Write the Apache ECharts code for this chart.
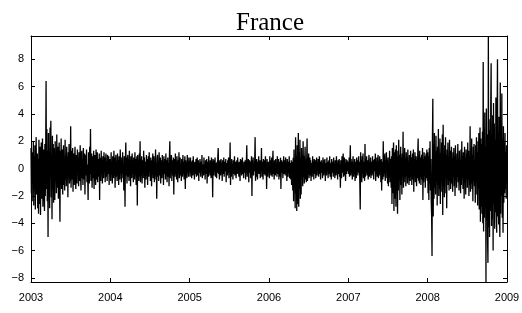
<!DOCTYPE html>
<html>
<head>
<meta charset="utf-8">
<title>France</title>
<script src="https://cdn.jsdelivr.net/npm/echarts@6/dist/echarts.min.js"></script>
<style>
  html, body { margin: 0; padding: 0; background: #fff; }
  #main { width: 522px; height: 313px; }
</style>
</head>
<body>
<div id="main"></div>
<script>
// years shown on the x axis, one block of daily returns per year
const years = [2003, 2004, 2005, 2006, 2007, 2008]
const yearLabels = ['2003', '2004', '2005', '2006', '2007', '2008', '2009']

// daily returns (%)
const r2003 = [
  1.5, -1.8, 0.6, -2.4, 1.2, -0.5, 2.0, -2.7, 0.9, -1.4, 1.7, -3.0, 0.4, 2.3, -1.9, -0.8, 1.1, -2.9, 0.7, -3.3,
  2.1, -1.2, -2.6, 1.6, -3.4, 0.8, 1.9, -2.2, -1.0, 2.2, -2.8, 0.5, 1.4, -1.7, -3.1, 1.8, -2.0, 0.9, 6.4, -1.5,
  2.9, -2.4, 1.3, -5.0, 2.6, -1.1, 0.4, -2.9, 3.0, 1.2, 3.5, -2.1, 0.6, -3.7, 2.4, -1.6, 1.8, -2.5, 0.3, 1.5,
  -2.3, 2.0, -0.9, 1.1, -1.8, 2.5, -0.6, -1.4, 1.6, -2.2, 0.7, 1.9, -1.0, -3.9, 1.3, -0.4, 2.2, -1.5, 0.5, 1.4,
  -1.9, 0.8, 1.7, -1.2, 0.2, -1.6, 2.1, -0.8, 1.0, -1.3, 1.6, -0.5, 0.9, -2.1, 1.2, -0.7, 1.8, -1.1, 0.4, -0.9,
  3.1, -1.4, 0.6, 1.3, -0.8, 1.5, -1.7, 0.3, 1.1, -1.2, 0.7, 1.6, -0.6, -1.5, 1.0, 0.2, -1.1, 1.4, -0.4, 0.8,
  -1.3, 1.2, 0.5, -0.9, 1.7, -0.3, -1.6, 0.9, 1.3, -0.7, 0.4, -1.2, 1.5, 0.1, -0.8, 1.1, -1.9, 0.6, 1.0, -0.5,
  1.4, -1.0, 0.3, -0.6, -2.3, 1.2, 0.7, -1.1, 1.6, -0.4, 2.9, -0.9, 0.5, 1.1, -1.4, 0.2, 0.9, -0.7, 1.3, -1.5,
  0.6, 1.0, -0.3, -1.2, 1.4, 0.4, -0.8, 1.2, -1.0, 0.7, 0.3, -0.6, 1.1, -2.3, 0.8, 0.2, -0.9, 1.3, -0.4, 0.6,
  -1.1, 0.9, 0.4, -0.7, 1.2, -0.2, 0.8, -1.0, 0.5, 1.1, -0.6, 0.3, -0.9, 1.0, 0.6, -0.4, 0.9, -1.2, 0.7, 0.5
]
const r2004 = [
  0.7, -0.9, 1.2, -0.4, 0.5, -1.1, 0.9, 0.2, -0.7, 1.3, -0.5, 0.8, -1.4, 0.3, 1.0, -0.6, 0.4, -0.9, 1.1, -0.3,
  0.6, -1.2, 0.9, 0.1, -0.8, 1.4, -0.2, 0.5, -1.0, 0.8, -0.4, 1.2, -0.7, 0.3, -1.6, 0.9, 0.4, -2.8, 0.6, 1.9,
  -0.5, 0.8, -1.1, 0.3, 1.0, -0.6, 0.7, -0.9, 1.3, -0.2, 0.4, -1.3, 0.9, 0.1, -0.7, 1.1, -0.4, 0.6, -1.0, 0.8,
  0.3, -0.8, 1.2, -0.5, 0.7, -1.2, 0.4, 0.9, -2.7, 1.0, -0.3, 0.6, -0.9, 1.1, -0.6, 2.0, -1.0, 0.5, -0.4, 0.9,
  -1.1, 0.6, 0.2, -0.7, 1.3, -0.3, 0.8, -1.4, 0.5, 0.1, -0.8, 1.0, -0.5, 0.7, -1.2, 0.4, 0.9, -0.6, 1.2, -0.2,
  0.5, -0.9, 0.8, 0.3, -1.3, 0.6, -0.4, 1.1, -0.7, 0.2, 0.9, -1.0, 0.4, -0.5, 1.4, -0.8, 0.3, -2.2, 0.7, 1.0,
  -0.6, 0.4, -0.9, 1.2, 0.1, -0.5, 0.8, -1.1, 0.6, 0.3, -0.7, 1.0, -0.3, 0.5, -1.2, 0.9, -0.4, 0.7, 0.2, -0.8,
  1.1, -0.5, 0.6, -1.0, 0.3, 0.8, -0.6, 0.4, -1.3, 0.9, 2.0, -0.7, 0.5, -0.2, 1.0, -0.9, 0.3, 0.6, -0.5, 0.8,
  -1.9, 0.7, 0.2, -0.6, 1.1, -0.4, 0.5, -0.8, 0.9, 0.1, -1.0, 0.6, -0.3, 1.2, -0.7, 0.4, 0.8, -0.5, 0.3, -0.9,
  0.7, 0.2, -0.6, 1.0, -0.4, 0.5, -0.8, 0.3, 0.9, -1.5, 0.6, -0.2, 0.4, -0.7, 1.0, -0.3, 0.5, -0.6, 0.8, 0.2
]
const r2005 = [
  0.4, -0.6, 0.8, -0.3, 0.5, -0.7, 0.2, 0.6, -0.5, 0.9, -0.2, 0.3, -0.8, 0.5, 0.1, -0.4, 0.7, -0.6, 0.3, 0.8,
  -0.5, 0.2, 0.6, -0.9, 0.4, -0.3, 0.7, 0.1, -0.6, 0.5, -0.2, 1.0, -0.7, 0.3, 0.4, -0.5, 0.8, -0.3, 0.2, -0.8,
  0.6, 0.3, -0.4, 0.7, -1.1, 0.5, 0.2, -0.6, 0.9, -0.3, 0.4, -0.5, 0.6, 0.1, -0.7, 0.8, -0.2, 0.5, -2.1, 0.7,
  0.3, -0.5, 0.6, -0.2, 0.8, -0.6, 0.4, 0.2, -0.7, 0.5, -0.3, 0.9, 1.5, -0.4, 0.3, -0.8, 0.6, 0.1, -0.5, 0.7,
  -0.3, 0.4, -0.9, 0.6, 0.2, -0.4, 0.8, -0.6, 0.3, 0.5, -0.2, 0.7, -1.0, 0.4, 0.1, -0.5, 0.6, -0.3, 0.8, -0.7,
  0.5, 0.2, 1.9, -1.2, 0.4, -0.6, 0.7, -0.2, 0.3, -0.8, 0.6, 0.1, -0.4, 0.9, -0.5, 0.3, 0.5, -0.7, 0.2, 0.6,
  -0.4, 0.8, -0.3, 0.4, -0.6, 0.5, 0.1, -0.9, 0.7, -0.2, 0.6, -0.5, 0.3, 0.8, -0.4, 0.2, -0.7, 0.5, 0.4, -0.3,
  0.6, -0.8, 0.3, 0.5, 1.7, -0.6, 0.2, -0.4, 0.7, -1.0, 0.4, 0.6, -0.3, 0.5, -0.7, 0.2, 0.9, -2.0, 0.6, -0.4,
  0.8, -0.5, 0.3, -0.2, 0.6, 2.3, -0.9, 0.4, -0.6, 0.7, 0.2, -0.8, 0.5, -0.3, 0.9, -0.4, 0.3, 0.6, -0.7, 0.4,
  -0.2, 1.5, -0.6, 0.5, 0.2, -0.8, 0.7, -0.4, 0.3, 0.6, -0.5, 0.9, -0.3, 0.4, -1.5, 0.7, 0.2, -0.6, 0.5, 0.3
]
const r2006 = [
  0.5, -0.7, 0.9, -0.3, 0.6, -0.5, 0.2, 0.8, -0.6, 0.4, 1.3, -0.4, 0.3, -0.8, 0.6, 0.1, -0.5, 0.7, -0.3, 0.4,
  -0.6, 0.9, 0.2, -0.4, 0.7, -0.8, 0.5, 0.3, -0.6, 0.8, -1.5, 0.4, 0.6, -0.3, 0.5, -0.7, 0.2, 0.9, -0.4, 0.3,
  0.6, -0.5, 0.8, -0.2, 0.4, -0.9, 0.7, 0.1, -0.6, 0.5, -0.3, 0.9, -0.7, 0.4, 0.2, -0.8, 0.6, -1.2, 0.5, 0.3,
  -1.6, 0.8, -2.4, 1.4, -0.9, 0.6, -2.9, 2.3, -1.8, 0.9, -3.1, 1.7, -2.6, 0.5, 2.6, -2.8, 1.2, -1.5, 2.1, -2.2,
  0.8, -1.9, 1.5, -0.7, 1.0, -1.3, 2.0, -0.6, 0.9, -1.1, 0.4, 1.6, -0.8, 0.7, -1.0, 0.5, 2.2, -0.9, 0.6, -0.4,
  1.1, -0.7, 0.3, 0.8, -0.5, 0.6, -0.9, 0.4, 0.2, -0.6, 0.9, -0.3, 0.5, -0.8, 0.7, 0.1, -0.4, 0.6, -0.7, 0.3,
  0.8, -0.5, 0.4, -0.2, 0.7, -0.6, 0.3, 0.9, -0.4, 0.5, -0.8, 0.2, 0.6, -0.3, 0.4, -0.7, 0.8, 0.1, -0.5, 0.6,
  -0.3, 0.7, -0.9, 0.4, 0.2, -0.5, 0.8, -0.2, 0.5, -0.7, 0.3, 0.6, -0.4, 0.9, -0.6, 0.2, 0.4, -0.8, 0.7, -0.3,
  0.5, 0.1, -0.6, 0.8, -0.4, 0.3, -0.7, 0.6, 0.2, -0.5, 0.9, -0.3, 0.4, -0.8, 0.6, 0.2, -0.4, 0.7, -0.6, 0.3,
  -1.4, 0.6, 0.4, -0.7, 0.9, -0.3, 0.5, 1.1, -0.6, 0.2, 0.8, -0.5, 0.4, -0.9, 0.7, 0.3, -0.4, 0.6, -0.2, 0.5
]
const r2007 = [
  0.6, -0.4, 0.8, -0.6, 0.3, 1.7, -0.5, 0.7, -0.3, 0.5, -0.8, 0.4, 0.9, -0.6, 0.2, -0.4, 0.7, -0.9, 0.5, 0.3,
  -0.7, 0.8, -0.2, 0.6, -0.5, 0.4, 0.9, -0.3, 0.5, -1.1, -3.0, 1.2, -0.8, 0.6, -1.0, 0.9, -0.4, 1.1, -0.7, 0.5,
  0.3, -0.9, 1.8, -0.6, 0.7, -0.3, 0.9, -0.5, 0.4, 0.6, -0.8, 0.3, 1.0, -0.6, 0.2, -0.4, 0.8, -0.7, 0.5, 0.3,
  -0.5, 0.9, -0.3, 0.6, -0.8, 0.4, 0.7, -0.2, 1.1, -0.9, 0.5, -0.4, 0.8, -0.6, 0.3, 1.0, -0.7, 0.4, -0.5, 0.9,
  -0.3, 0.6, -1.0, 0.7, -1.6, 0.5, 0.3, -0.8, 2.0, -0.6, 0.9, -0.4, 1.1, -0.9, 0.5, -0.7, 1.2, -0.3, 0.6, -1.1,
  0.8, -1.3, 0.4, -0.6, 1.3, -1.0, 0.7, 0.2, -1.4, 0.9, -2.6, 1.5, -1.8, 0.6, 1.9, -3.1, 1.2, -2.2, 0.8, 1.4,
  -2.8, 1.7, -1.1, 0.9, -3.3, 1.3, -1.6, 2.1, -0.7, 1.0, -2.3, 0.6, 1.6, -1.2, 0.8, -1.9, 1.1, -0.5, 2.7, -1.4,
  0.9, -1.0, 1.5, -0.6, 0.7, -1.3, 1.2, -0.4, 0.8, -1.1, 1.4, -0.7, 0.5, -1.2, 1.0, 0.3, -0.9, 1.3, -0.6, 0.8,
  -1.2, 0.6, 1.1, -0.8, 1.4, -1.7, 0.7, -0.5, 1.2, -1.0, 0.4, 0.9, -1.3, 0.6, -0.7, 1.1, 2.2, -0.9, 0.5, -1.1,
  1.3, -0.6, 0.8, -1.2, 0.4, 1.0, -0.8, 1.5, -2.3, 0.7, -1.0, 1.2, -0.5, 0.9, -1.4, 0.6, 1.1, -0.7, 1.4, -0.9
]
const r2008 = [
  1.2, -1.8, 0.9, -2.3, 1.5, -1.1, 2.0, -1.6, 0.7, -2.4, -3.5, -6.4, 2.0, 5.1, -3.5, 1.8, -2.2, 2.6, -1.4, 0.9,
  -1.9, 2.4, -0.8, 1.3, -2.7, 1.6, -1.2, 2.9, -2.0, 0.7, -1.5, 2.2, -2.6, 1.1, -0.9, 1.9, -1.7, 2.5, -3.4, 3.2,
  -1.3, 0.8, -2.1, 1.7, -0.6, 2.3, -1.8, 1.0, -2.9, 1.4, -0.7, 1.9, -1.2, 0.5, -1.6, 2.1, -0.9, 1.3, -1.5, 0.6,
  1.6, -1.1, 0.8, -1.7, 1.2, -0.5, 1.5, -1.3, 0.9, -2.0, 1.7, -0.8, 0.4, -1.4, 1.1, -0.6, 1.8, -1.0, 0.7, -1.6,
  1.3, -0.9, 0.6, -1.8, 1.4, -1.2, 2.0, -0.7, 0.9, -1.5, 1.2, -0.4, -2.2, 1.6, -1.0, 0.8, -1.9, 1.4, -0.6, 1.1,
  -1.4, 1.9, -0.8, 1.3, -2.0, 0.9, -1.2, 3.1, -1.7, 0.7, -1.1, 2.2, -1.5, 1.0, -2.4, 1.6, -0.9, 1.8, -1.3, 0.6,
  -2.5, 1.7, -1.0, 2.3, -1.9, 1.2, -2.7, 2.0, -1.4, 2.6, -3.0, 1.5, 3.0, -3.9, 2.2, -2.8, 1.8, -3.3, 2.7, -4.0,
  7.8, -4.6, 2.9, -3.6, 4.1, -2.9, 1.6, -8.3, 4.4, -3.8, 2.5, -5.2, -6.9, 9.7, -4.3, 3.6, -5.0, 2.8, -3.1, 4.5,
  7.7, -4.2, 2.4, -3.7, 3.9, -6.0, 4.8, -2.6, 3.3, -4.4, 2.1, -3.2, 5.2, -2.4, -4.7, 3.0, 8.0, -3.5, 2.6, -4.1,
  3.8, -2.9, -5.0, 6.3, -3.3, 2.4, -2.0, 5.5, -3.6, 2.2, -4.7, 3.1, -2.5, 1.9, -1.8, 2.6, -1.5, 1.2, -2.2, 1.7
]
const returnsByYear = [r2003, r2004, r2005, r2006, r2007, r2008]

// y axis range as seen on the frame
const yMin = -8.3
const yMax = 9.7

const franceChart = {

  init() {
    let main = document.getElementById('main')
    let myChart = echarts.init(main, null, { renderer: 'canvas' })
    myChart.setOption(this.createOption())
  },

  // spread each year's values evenly over that year
  buildPoints() {
    let points = []
    years.forEach((year, k) => {
      let values = returnsByYear[k]
      values.forEach((v, i) => {
        points.push([year + i / values.length, v])
      })
    })
    return points
  },

  createOption() {
    let labelFont = {
      color: '#000',
      fontFamily: 'Liberation Sans, Arial, sans-serif',
      fontSize: 11
    }
    let lineStyle = { color: '#000', width: 1 }
    let tick = { show: true, inside: true, length: 4, lineStyle: lineStyle }
    // frame lines must stay on the grid edges, not on zero
    let frameLine = { show: true, onZero: false, lineStyle: lineStyle }

    return {
      animation: false,
      backgroundColor: '#fff',
      title: {
        text: 'France',
        left: 265,
        textAlign: 'center',
        top: 6,
        textStyle: {
          fontFamily: 'Liberation Serif, Times New Roman, serif',
          fontWeight: 'normal',
          fontSize: 25,
          color: '#000'
        }
      },
      grid: {
        left: 31,
        right: 15,
        top: 36,
        bottom: 31,
        containLabel: false,
        outerBoundsMode: 'none'
      },
      xAxis: [{
        type: 'value',
        min: 2003,
        max: 2009,
        interval: 1,
        position: 'bottom',
        axisLine: frameLine,
        axisTick: tick,
        splitLine: { show: false },
        axisLabel: Object.assign({
          margin: 10,
          formatter: v => yearLabels[v - 2003] || ''
        }, labelFont)
      }, {
        type: 'value',
        min: 2003,
        max: 2009,
        interval: 1,
        position: 'top',
        axisLine: frameLine,
        axisTick: tick,
        splitLine: { show: false },
        axisLabel: { show: false }
      }],
      yAxis: [{
        type: 'value',
        min: yMin,
        max: yMax,
        splitNumber: 9,
        position: 'left',
        axisLine: frameLine,
        axisTick: tick,
        splitLine: { show: false },
        axisLabel: Object.assign({
          margin: 7,
          showMinLabel: false,
          showMaxLabel: false,
          formatter: v => String(v).replace('-', '\u2212')
        }, labelFont)
      }, {
        type: 'value',
        min: yMin,
        max: yMax,
        splitNumber: 9,
        position: 'right',
        axisLine: frameLine,
        axisTick: tick,
        splitLine: { show: false },
        axisLabel: { show: false }
      }],
      series: [{
        name: 'France',
        type: 'line',
        xAxisIndex: 0,
        yAxisIndex: 0,
        data: this.buildPoints(),
        showSymbol: false,
        symbol: 'none',
        sampling: null,
        silent: true,
        lineStyle: { color: '#000', width: 1.3 }
      }]
    }
  }
}

franceChart.init()
</script>
</body>
</html>
